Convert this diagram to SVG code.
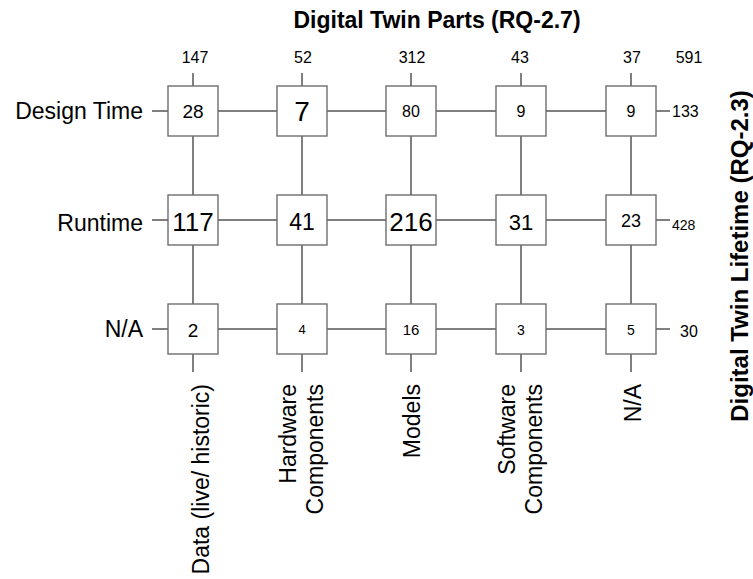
<svg xmlns="http://www.w3.org/2000/svg" width="753" height="579" viewBox="0 0 753 579">
<style>
text{font-family:"Liberation Sans",Arial,sans-serif;fill:#000}
.ln{stroke:#000;stroke-width:1;fill:none}
.bx{fill:#fff;stroke:#6e6e6e;stroke-width:1.4}
.c{text-anchor:middle}
.e{text-anchor:end}
.b{font-weight:bold}
</style>
<rect width="753" height="579" fill="#fff"/>
<g id="connectors">
<line class="ln" x1="193" y1="73" x2="193" y2="372"/>
<line class="ln" x1="302" y1="73" x2="302" y2="372"/>
<line class="ln" x1="411" y1="73" x2="411" y2="372"/>
<line class="ln" x1="521" y1="73" x2="521" y2="372"/>
<line class="ln" x1="631" y1="73" x2="631" y2="372"/>
<line class="ln" x1="152" y1="111" x2="670" y2="111"/>
<line class="ln" x1="152" y1="220" x2="670" y2="220"/>
<line class="ln" x1="152" y1="329" x2="670" y2="329"/>
</g>
<g id="titles">
<text class="c b" x="437" y="27.5" font-size="23">Digital Twin Parts (RQ-2.7)</text>
<text class="c b" font-size="24" transform="translate(748,256) rotate(-90)">Digital Twin Lifetime (RQ-2.3)</text>
</g>
<g id="row-labels" font-size="23">
<text class="e" x="143" y="118.7" font-size="23">Design Time</text>
<text class="e" x="143" y="231" font-size="23">Runtime</text>
<text class="e" x="143" y="337.3" font-size="23">N/A</text>
</g>
<g id="col-labels">
<text class="e" font-size="23" transform="translate(209,384) rotate(-90)">Data (live/ historic)</text>
<text class="e" font-size="23" transform="translate(296,384) rotate(-90)">Hardware</text>
<text class="e" font-size="23" transform="translate(323,384) rotate(-90)">Components</text>
<text class="e" font-size="23" transform="translate(420,384) rotate(-90)">Models</text>
<text class="e" font-size="23" transform="translate(515,384) rotate(-90)">Software</text>
<text class="e" font-size="23" transform="translate(541.5,384) rotate(-90)">Components</text>
<text class="e" font-size="23" transform="translate(641,384) rotate(-90)">N/A</text>
</g>
<g id="col-totals" font-size="16">
<text class="c" x="195" y="62.7" font-size="16">147</text>
<text class="c" x="303" y="62.7" font-size="16">52</text>
<text class="c" x="412" y="62.7" font-size="16">312</text>
<text class="c" x="520" y="62.7" font-size="16">43</text>
<text class="c" x="632" y="62.7" font-size="16">37</text>
<text class="c" x="689" y="62.7" font-size="16">591</text>
</g>
<g id="row-totals">
<text x="672" y="116.5" font-size="16">133</text>
<text x="672" y="230" font-size="14">428</text>
<text x="680" y="336.7" font-size="16">30</text>
</g>
<g id="n-dt-data"><rect class="bx" x="168" y="86" width="50" height="50"/><text class="c" x="193" y="117.7" font-size="19">28</text></g>
<g id="n-dt-hw"><rect class="bx" x="277" y="86" width="50" height="50"/><text class="c" x="302" y="121" font-size="28">7</text></g>
<g id="n-dt-models"><rect class="bx" x="386" y="86" width="50" height="50"/><text class="c" x="411" y="116.7" font-size="16">80</text></g>
<g id="n-dt-sw"><rect class="bx" x="496" y="86" width="50" height="50"/><text class="c" x="521" y="116.7" font-size="16">9</text></g>
<g id="n-dt-na"><rect class="bx" x="606" y="86" width="50" height="50"/><text class="c" x="631" y="116.7" font-size="16">9</text></g>
<g id="n-rt-data"><rect class="bx" x="168" y="195" width="50" height="50"/><text class="c" x="193" y="230.7" font-size="26">117</text></g>
<g id="n-rt-hw"><rect class="bx" x="277" y="195" width="50" height="50"/><text class="c" x="302" y="230" font-size="23">41</text></g>
<g id="n-rt-models"><rect class="bx" x="386" y="195" width="50" height="50"/><text class="c" x="411" y="230.7" font-size="26">216</text></g>
<g id="n-rt-sw"><rect class="bx" x="496" y="195" width="50" height="50"/><text class="c" x="521" y="230" font-size="22">31</text></g>
<g id="n-rt-na"><rect class="bx" x="606" y="195" width="50" height="50"/><text class="c" x="631" y="227.3" font-size="18">23</text></g>
<g id="n-na-data"><rect class="bx" x="168" y="304" width="50" height="50"/><text class="c" x="193" y="336.7" font-size="19">2</text></g>
<g id="n-na-hw"><rect class="bx" x="277" y="304" width="50" height="50"/><text class="c" x="302" y="334.3" font-size="13">4</text></g>
<g id="n-na-models"><rect class="bx" x="386" y="304" width="50" height="50"/><text class="c" x="411" y="335" font-size="15">16</text></g>
<g id="n-na-sw"><rect class="bx" x="496" y="304" width="50" height="50"/><text class="c" x="521" y="335" font-size="14">3</text></g>
<g id="n-na-na"><rect class="bx" x="606" y="304" width="50" height="50"/><text class="c" x="631" y="335" font-size="14">5</text></g>
</svg>
